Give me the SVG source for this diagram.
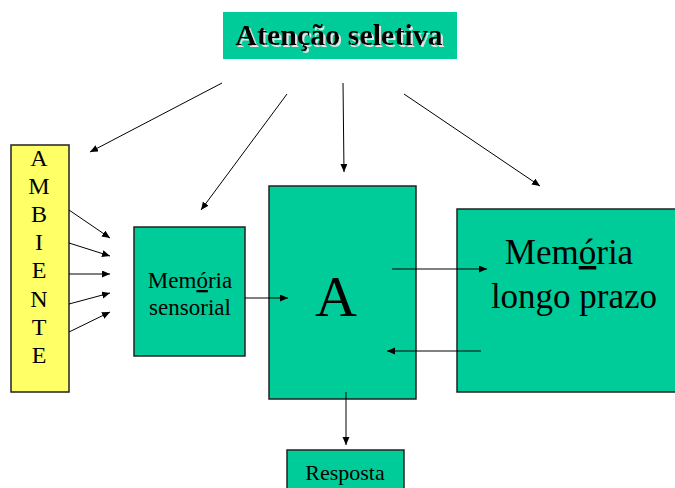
<svg xmlns="http://www.w3.org/2000/svg" width="675" height="488" viewBox="0 0 675 488">
<style>
.box{fill:#00CC99;stroke:#222;stroke-width:1.5}
.t{font-family:"Liberation Serif","Times New Roman",serif;fill:#000;text-anchor:middle}
.c{stroke:#000;stroke-width:1;fill:none;marker-end:url(#ah)}
</style>
<defs>
<marker id="ah" markerUnits="userSpaceOnUse" markerWidth="9" markerHeight="8" refX="8" refY="3.5" orient="auto">
<path d="M0,0 L8,3.5 L0,7 Z" fill="#000"/>
</marker>
<filter id="sh" x="-10%" y="-30%" width="120%" height="160%">
<feDropShadow dx="2" dy="2" stdDeviation="0" flood-color="#e4e4e4" flood-opacity="1"/>
</filter>
</defs>
<rect width="675" height="488" fill="#fff"/>
<g id="atencao">
<rect x="223" y="12" width="234" height="47" fill="#00CC99"/>
<text class="t" x="339" y="45" font-size="30" font-weight="bold" filter="url(#sh)">Atenção seletiva</text>
</g>
<g id="ambiente">
<rect x="11" y="145" width="58" height="247" fill="#FFFF66" stroke="#222" stroke-width="1.5"/>
<text class="t" font-size="24"><tspan x="39" y="166">A</tspan><tspan x="39" y="194">M</tspan><tspan x="39" y="222">B</tspan><tspan x="39" y="250">I</tspan><tspan x="39" y="278">E</tspan><tspan x="39" y="307">N</tspan><tspan x="39" y="335">T</tspan><tspan x="39" y="363">E</tspan></text>
</g>
<g id="memoria-sensorial">
<rect class="box" x="134" y="227" width="111" height="129"/>
<text class="t" font-size="23"><tspan x="190" y="288">Mem<tspan text-decoration="underline">ó</tspan>ria</tspan><tspan x="190" y="315">sensorial</tspan></text>
</g>
<g id="a">
<rect class="box" x="269" y="186" width="147" height="213"/>
<text class="t" x="336" y="316" font-size="58">A</text>
</g>
<g id="memoria-longo-prazo">
<rect class="box" x="457" y="209" width="222" height="183"/>
<text class="t" font-size="35"><tspan x="569" y="264">Mem<tspan text-decoration="underline">ó</tspan>ria</tspan><tspan x="574" y="308">longo prazo</tspan></text>
</g>
<g id="resposta">
<rect class="box" x="287" y="450" width="117" height="45"/>
<text class="t" x="345" y="480" font-size="22">Resposta</text>
</g>
<g id="connectors">
<line class="c" x1="222" y1="83" x2="90" y2="152"/>
<line class="c" x1="287" y1="94" x2="201" y2="210"/>
<line class="c" x1="343" y1="83" x2="344" y2="172"/>
<line class="c" x1="404" y1="94" x2="540" y2="186"/>
<line class="c" x1="69" y1="210" x2="110" y2="238"/>
<line class="c" x1="69" y1="243" x2="110" y2="256"/>
<line class="c" x1="69" y1="274" x2="110" y2="274"/>
<line class="c" x1="69" y1="304" x2="110" y2="293"/>
<line class="c" x1="69" y1="332" x2="110" y2="312"/>
<line class="c" x1="245" y1="298" x2="288" y2="298"/>
<line class="c" x1="392" y1="269" x2="487" y2="269"/>
<line class="c" x1="481" y1="351" x2="387" y2="351"/>
<line class="c" x1="346" y1="392" x2="346" y2="445"/>
</g>
</svg>
